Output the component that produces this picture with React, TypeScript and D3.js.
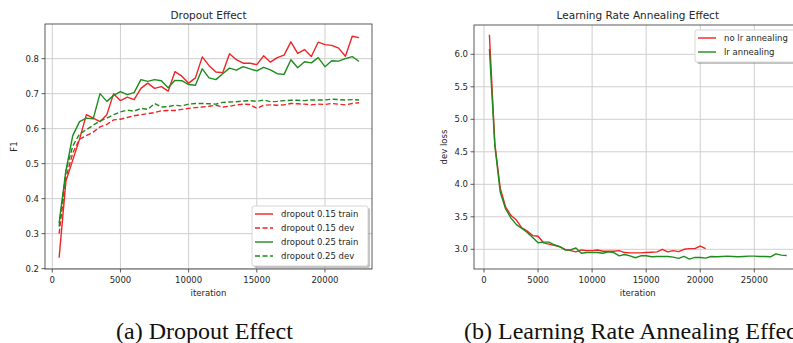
import React from 'react';
import * as d3 from 'd3';

// ---- data: left panel (dropout) ----
const dropIter = [
  500, 1000, 1500, 2000, 2500, 3000, 3500, 4000, 4500, 5000, 5500, 6000, 6500, 7000, 7500,
  8000, 8500, 9000, 9500, 10000, 10500, 11000, 11500, 12000, 12500, 13000, 13500, 14000,
  14500, 15000, 15500, 16000, 16500, 17000, 17500, 18000, 18500, 19000, 19500, 20000,
  20500, 21000, 21500, 22000, 22500,
];
const d15Train = [
  0.231, 0.45, 0.51, 0.57, 0.64, 0.63, 0.62, 0.64, 0.70, 0.68, 0.69, 0.683, 0.715, 0.73, 0.715,
  0.72, 0.707, 0.763, 0.75, 0.73, 0.745, 0.805, 0.78, 0.762, 0.76, 0.814, 0.797, 0.787,
  0.787, 0.783, 0.808, 0.79, 0.803, 0.81, 0.848, 0.815, 0.826, 0.806, 0.847, 0.84,
  0.838, 0.83, 0.807, 0.864, 0.86,
];
const d15Dev = [
  0.30, 0.46, 0.53, 0.57, 0.58, 0.59, 0.605, 0.612, 0.625, 0.627, 0.632, 0.637, 0.64, 0.643, 0.646,
  0.651, 0.652, 0.652, 0.655, 0.658, 0.66, 0.662, 0.664, 0.667, 0.662, 0.664, 0.668, 0.67,
  0.669, 0.658, 0.667, 0.668, 0.667, 0.668, 0.672, 0.671, 0.67, 0.668, 0.67, 0.669,
  0.672, 0.67, 0.668, 0.672, 0.674,
];
const d25Train = [
  0.33, 0.48, 0.58, 0.62, 0.63, 0.628, 0.70, 0.678, 0.695, 0.706, 0.697, 0.703, 0.74, 0.735, 0.74,
  0.737, 0.717, 0.738, 0.737, 0.726, 0.724, 0.771, 0.745, 0.74, 0.757, 0.773, 0.767, 0.777,
  0.771, 0.765, 0.775, 0.768, 0.757, 0.755, 0.797, 0.774, 0.791, 0.788, 0.803, 0.777,
  0.794, 0.793, 0.8, 0.806, 0.792,
];
const d25Dev = [
  0.32, 0.48, 0.55, 0.585, 0.597, 0.61, 0.622, 0.63, 0.64, 0.648, 0.653, 0.65, 0.658, 0.655, 0.672,
  0.662, 0.663, 0.667, 0.665, 0.67, 0.672, 0.672, 0.671, 0.67, 0.675, 0.676, 0.677, 0.679,
  0.68, 0.678, 0.682, 0.677, 0.678, 0.68, 0.681, 0.681, 0.68, 0.682, 0.682, 0.682,
  0.684, 0.683, 0.682, 0.683, 0.682,
];
const dropXTicks = [0, 5000, 10000, 15000, 20000];
const dropYTicks = [0.2, 0.3, 0.4, 0.5, 0.6, 0.7, 0.8];

// ---- data: right panel (lr annealing) ----
const noLrIter = [
  500, 1000, 1500, 2000, 2500, 3000, 3500, 4000, 4500, 5000, 5500, 6000, 6500, 7000, 7500,
  8000, 8500, 9000, 9500, 10000, 10500, 11000, 11500, 12000, 12500, 13000, 13500, 14000,
  14500, 15000, 15500, 16000, 16500, 17000, 17500, 18000, 18500, 19000, 19500, 20000, 20500,
];
const noLrLoss = [
  6.30, 4.63, 3.94, 3.65, 3.52, 3.45, 3.33, 3.28, 3.21, 3.20, 3.10, 3.08, 3.06, 3.04, 3.00,
  2.98, 2.96, 2.99, 2.98, 2.98, 2.99, 2.97, 2.97, 2.97, 2.98, 2.95, 2.945, 2.945,
  2.945, 2.95, 2.955, 2.96, 3.00, 2.96, 2.98, 2.965, 3.00, 3.01, 3.01, 3.05, 3.01,
];
const lrIter = [
  500, 1000, 1500, 2000, 2500, 3000, 3500, 4000, 4500, 5000, 5500, 6000, 6500, 7000, 7500,
  8000, 8500, 9000, 9500, 10000, 10500, 11000, 11500, 12000, 12500, 13000, 13500, 14000,
  14500, 15000, 15500, 16000, 16500, 17000, 17500, 18000, 18500, 19000, 19500, 20000,
  20500, 21000, 21500, 22000, 22500, 23000, 23500, 24000, 24500, 25000, 25500, 26000,
  26500, 27000, 27500, 28000,
];
const lrLoss = [
  6.08, 4.6, 3.88, 3.62, 3.48, 3.38, 3.32, 3.26, 3.18, 3.10, 3.11, 3.11, 3.07, 3.04, 2.99,
  2.99, 3.02, 2.94, 2.95, 2.95, 2.95, 2.94, 2.96, 2.95, 2.9, 2.92, 2.9, 2.87,
  2.9, 2.9, 2.885, 2.89, 2.89, 2.89, 2.88, 2.86, 2.89, 2.85, 2.875, 2.875,
  2.865, 2.89, 2.885, 2.89, 2.895, 2.89, 2.885, 2.89, 2.895, 2.895, 2.89, 2.89,
  2.885, 2.93, 2.91, 2.905,
];
const lrXTicks = [0, 5000, 10000, 15000, 20000, 25000];
const lrYTicks = [3.0, 3.5, 4.0, 4.5, 5.0, 5.5, 6.0];

const RED = '#f02424';
const GREEN = '#1d8c1d';
const FONT = '"DejaVu Sans", sans-serif';
const TXT = '#262626';

type Series = { name: string; x: number[]; y: number[]; color: string; dashed?: boolean };

type PanelProps = {
  id: string;
  box: { x0: number; x1: number; y0: number; y1: number };
  xDomain: [number, number];
  yDomain: [number, number];
  xTicks: number[];
  yTicks: number[];
  yFmt: (v: number) => string;
  title: string;
  yLabel: string;
  yLabelX: number;
  series: Series[];
  legend: { x: number; y: number; w: number };
};

const Panel = ({ id, box, xDomain, yDomain, xTicks, yTicks, yFmt, title, yLabel, yLabelX, series, legend }: PanelProps) => {
  const x = d3.scaleLinear().domain(xDomain).range([box.x0, box.x1]);
  const y = d3.scaleLinear().domain(yDomain).range([box.y1, box.y0]);
  const line = (s: Series) =>
    d3.line<number>().x((_, i) => x(s.x[i])).y(d => y(d))(s.y) || '';
  const cx = (box.x0 + box.x1) / 2;
  const rowH = 14;
  const legH = series.length * rowH + 4;

  return (
    <g fontFamily={FONT}>
      <defs>
        <clipPath id={`clip-${id}`}>
          <rect x={box.x0} y={box.y0} width={box.x1 - box.x0} height={box.y1 - box.y0} />
        </clipPath>
      </defs>

      {/* grid */}
      {xTicks.map(t => (
        <line key={`gx${t}`} x1={x(t)} x2={x(t)} y1={box.y0} y2={box.y1} stroke="#cfcfcf" strokeWidth={1} />
      ))}
      {yTicks.map(t => (
        <line key={`gy${t}`} x1={box.x0} x2={box.x1} y1={y(t)} y2={y(t)} stroke="#cfcfcf" strokeWidth={1} />
      ))}

      {/* lines */}
      <g clipPath={`url(#clip-${id})`}>
        {series.map(s => (
          <path
            key={s.name}
            d={line(s)}
            fill="none"
            stroke={s.color}
            strokeWidth={1.4}
            strokeDasharray={s.dashed ? '5,2.5' : undefined}
            strokeLinejoin="round"
          />
        ))}
      </g>

      {/* spines */}
      <rect x={box.x0} y={box.y0} width={box.x1 - box.x0} height={box.y1 - box.y0} fill="none" stroke="#333" strokeWidth={0.8} />

      {/* ticks */}
      {xTicks.map(t => (
        <g key={`tx${t}`}>
          <line x1={x(t)} x2={x(t)} y1={box.y1} y2={box.y1 + 3.5} stroke="#333" strokeWidth={0.8} />
          <text x={x(t)} y={box.y1 + 14} textAnchor="middle" fontSize={8.5} fill={TXT}>{t}</text>
        </g>
      ))}
      {yTicks.map(t => (
        <g key={`ty${t}`}>
          <line x1={box.x0 - 3.5} x2={box.x0} y1={y(t)} y2={y(t)} stroke="#333" strokeWidth={0.8} />
          <text x={box.x0 - 6} y={y(t)} dy="0.35em" textAnchor="end" fontSize={8.5} fill={TXT}>{yFmt(t)}</text>
        </g>
      ))}

      {/* labels */}
      <text x={cx} y={19} textAnchor="middle" fontSize={10.5} fill={TXT}>{title}</text>
      <text x={cx} y={296} textAnchor="middle" fontSize={8.5} fill={TXT}>iteration</text>
      <text transform={`translate(${yLabelX},${(box.y0 + box.y1) / 2}) rotate(-90)`} textAnchor="middle" fontSize={8.5} fill={TXT}>
        {yLabel}
      </text>

      {/* legend */}
      <rect x={legend.x + 2} y={legend.y + 2} width={legend.w} height={legH} rx={2} fill="#7a7a7a" opacity={0.45} />
      <rect x={legend.x} y={legend.y} width={legend.w} height={legH} rx={2} fill="#fff" stroke="#cccccc" strokeWidth={0.8} />
      {series.map((s, i) => {
        const ry = legend.y + 8 + i * rowH;
        return (
          <g key={`lg${s.name}`}>
            <line x1={legend.x + 3} x2={legend.x + 21} y1={ry} y2={ry} stroke={s.color} strokeWidth={1.4} strokeDasharray={s.dashed ? '5,2.5' : undefined} />
            <text x={legend.x + 29} y={ry} dy="0.35em" fontSize={8.5} fill={TXT}>{s.name}</text>
          </g>
        );
      })}
    </g>
  );
};

const App = () => {
  const dropSeries: Series[] = [
    { name: 'dropout 0.15 train', x: dropIter, y: d15Train, color: RED },
    { name: 'dropout 0.15 dev', x: dropIter, y: d15Dev, color: RED, dashed: true },
    { name: 'dropout 0.25 train', x: dropIter, y: d25Train, color: GREEN },
    { name: 'dropout 0.25 dev', x: dropIter, y: d25Dev, color: GREEN, dashed: true },
  ];
  const lrSeries: Series[] = [
    { name: 'no lr annealing', x: noLrIter, y: noLrLoss, color: RED },
    { name: 'lr annealing', x: lrIter, y: lrLoss, color: GREEN },
  ];

  return (
    <div style={{ position: 'fixed', left: 0, top: 0, width: 793, height: 343, background: '#fff' }}>
      <svg width={793} height={343} style={{ display: 'block', overflow: 'hidden' }}>
        <rect width={793} height={343} fill="#fff" />
        <Panel
          id="drop"
          box={{ x0: 45, x1: 372, y0: 24, y1: 269 }}
          xDomain={[-535, 23450]}
          yDomain={[0.199, 0.899]}
          xTicks={dropXTicks}
          yTicks={dropYTicks}
          yFmt={d3.format('.1f')}
          title="Dropout Effect"
          yLabel="F1"
          yLabelX={17}
          series={dropSeries}
          legend={{ x: 252, y: 206, w: 116 }}
        />
        <Panel
          id="lr"
          box={{ x0: 474, x1: 801.6, y0: 25, y1: 269 }}
          xDomain={[-925, 29375]}
          yDomain={[2.697, 6.451]}
          xTicks={lrXTicks}
          yTicks={lrYTicks}
          yFmt={d3.format('.1f')}
          title="Learning Rate Annealing Effect"
          yLabel="dev loss"
          yLabelX={446.5}
          series={lrSeries}
          legend={{ x: 695, y: 30, w: 110 }}
        />
        <text x={116} y={339} fontFamily='"Liberation Serif", "Times New Roman", serif' fontSize={24} fill="#111">
          (a) Dropout Effect
        </text>
        <text x={464} y={339} fontFamily='"Liberation Serif", "Times New Roman", serif' fontSize={24} fill="#111">
          (b) Learning Rate Annealing Effect
        </text>
      </svg>
    </div>
  );
};

export default App;
